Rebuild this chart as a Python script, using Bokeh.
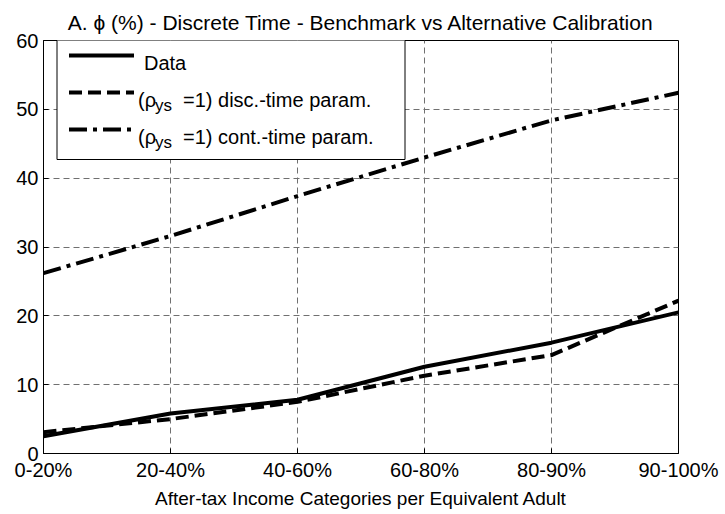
from bokeh.plotting import figure
from bokeh.models import Range1d, FixedTicker, BoxAnnotation, Label
from bokeh.embed import file_html
from bokeh.resources import INLINE

# ---- data ----
categories = ["0-20%", "20-40%", "40-60%", "60-80%", "80-90%", "90-100%"]
data_vals = [2.5, 5.8, 7.8, 12.6, 16.1, 20.5]
disc_vals = [3.1, 5.0, 7.5, 11.3, 14.3, 22.2]
cont_vals = [26.2, 31.6, 37.4, 43.0, 48.4, 52.4]
y_ticks = [0, 10, 20, 30, 40, 50, 60]
y_min, y_max = 0, 60

title_text = "A. \u03d5 (%) - Discrete Time - Benchmark vs Alternative Calibration"
x_label = "After-tax Income Categories per Equivalent Adult"
legend_labels = ["Data", "disc.-time param.", "cont.-time param."]

FONT = "Liberation Sans"
FS = "20px"
FW, FH = 635, 413

xs = list(range(len(categories)))

p = figure(frame_width=FW, frame_height=FH,
           x_range=Range1d(xs[0], xs[-1]), y_range=Range1d(y_min, y_max),
           output_backend="svg", toolbar_location=None,
           min_border_left=43, min_border_right=45,
           min_border_top=40, min_border_bottom=59,
           background_fill_color="white", border_fill_color="white")

p.title.text = title_text
p.title.align = "center"
p.title.text_font = FONT
p.title.text_font_size = "21px"
p.title.text_font_style = "normal"
p.title.text_color = "black"
p.title.standoff = 14

p.outline_line_color = "black"
p.outline_line_width = 1

# axes
p.xaxis.ticker = FixedTicker(ticks=xs)
p.xaxis.major_label_overrides = {i: c for i, c in enumerate(categories)}
p.yaxis.ticker = FixedTicker(ticks=y_ticks)
for ax in (p.xaxis[0], p.yaxis[0]):
    ax.major_label_text_font = FONT
    ax.major_label_text_font_size = FS
    ax.major_label_text_color = "black"
    ax.axis_line_color = "black"
    ax.major_tick_line_color = "black"
    ax.major_tick_in = 5
    ax.major_tick_out = 0
    ax.minor_tick_line_color = None
    ax.major_label_standoff = 5
p.xaxis.axis_label = x_label
p.xaxis.axis_label_text_font = FONT
p.xaxis.axis_label_text_font_size = "19px"
p.xaxis.axis_label_text_font_style = "normal"
p.xaxis.axis_label_text_color = "black"
p.xaxis.axis_label_standoff = 4

# grid
for g in (p.xgrid[0], p.ygrid[0]):
    g.grid_line_color = "#707070"
    g.grid_line_dash = "6 4"
    g.grid_line_width = 1
p.xgrid.ticker = FixedTicker(ticks=xs)
p.ygrid.ticker = FixedTicker(ticks=y_ticks)

# series
LW = 4
DASHES = ["solid", "13 6", "18 6 4 6"]
r_data = p.line(xs, data_vals, line_color="black", line_width=LW, line_dash=DASHES[0])
r_disc = p.line(xs, disc_vals, line_color="black", line_width=LW, line_dash=DASHES[1])
r_cont = p.line(xs, cont_vals, line_color="black", line_width=LW, line_dash=DASHES[2])

# ---- manual legend (positions in pixels from frame top-left) ----
def dx(px):
    return xs[0] + px / FW * (xs[-1] - xs[0])

def dy(py):
    return y_max - py / FH * (y_max - y_min)

box = BoxAnnotation(left=dx(13.5), right=dx(361.5), top=dy(-3), bottom=dy(119),
                    fill_color="white", fill_alpha=1.0, line_color="black",
                    line_alpha=1.0, line_width=1, level="annotation")
p.add_layout(box)

rows = [15, 52, 89]
for ry, d in zip(rows, DASHES):
    p.line([dx(25.5), dx(90.5)], [dy(ry), dy(ry)], line_color="black", line_width=LW,
           line_dash=d, level="overlay")

def add_text(px, py, txt, size=FS):
    p.add_layout(Label(x=dx(px), y=dy(py), text=txt, text_font=FONT, text_font_size=size,
                       text_color="black", text_baseline="alphabetic", text_align="left",
                       level="overlay"))

add_text(100.5, 22.5, legend_labels[0])
for base, lab in ((59, legend_labels[1]), (96, legend_labels[2])):
    add_text(94.5, base, "(\u03c1")
    add_text(111.5, base + 5.5, "ys", size="17px")
    add_text(139.5, base, "=1) " + lab)

html = file_html(p, INLINE)
with open("out.html", "w") as f:
    f.write(html)
